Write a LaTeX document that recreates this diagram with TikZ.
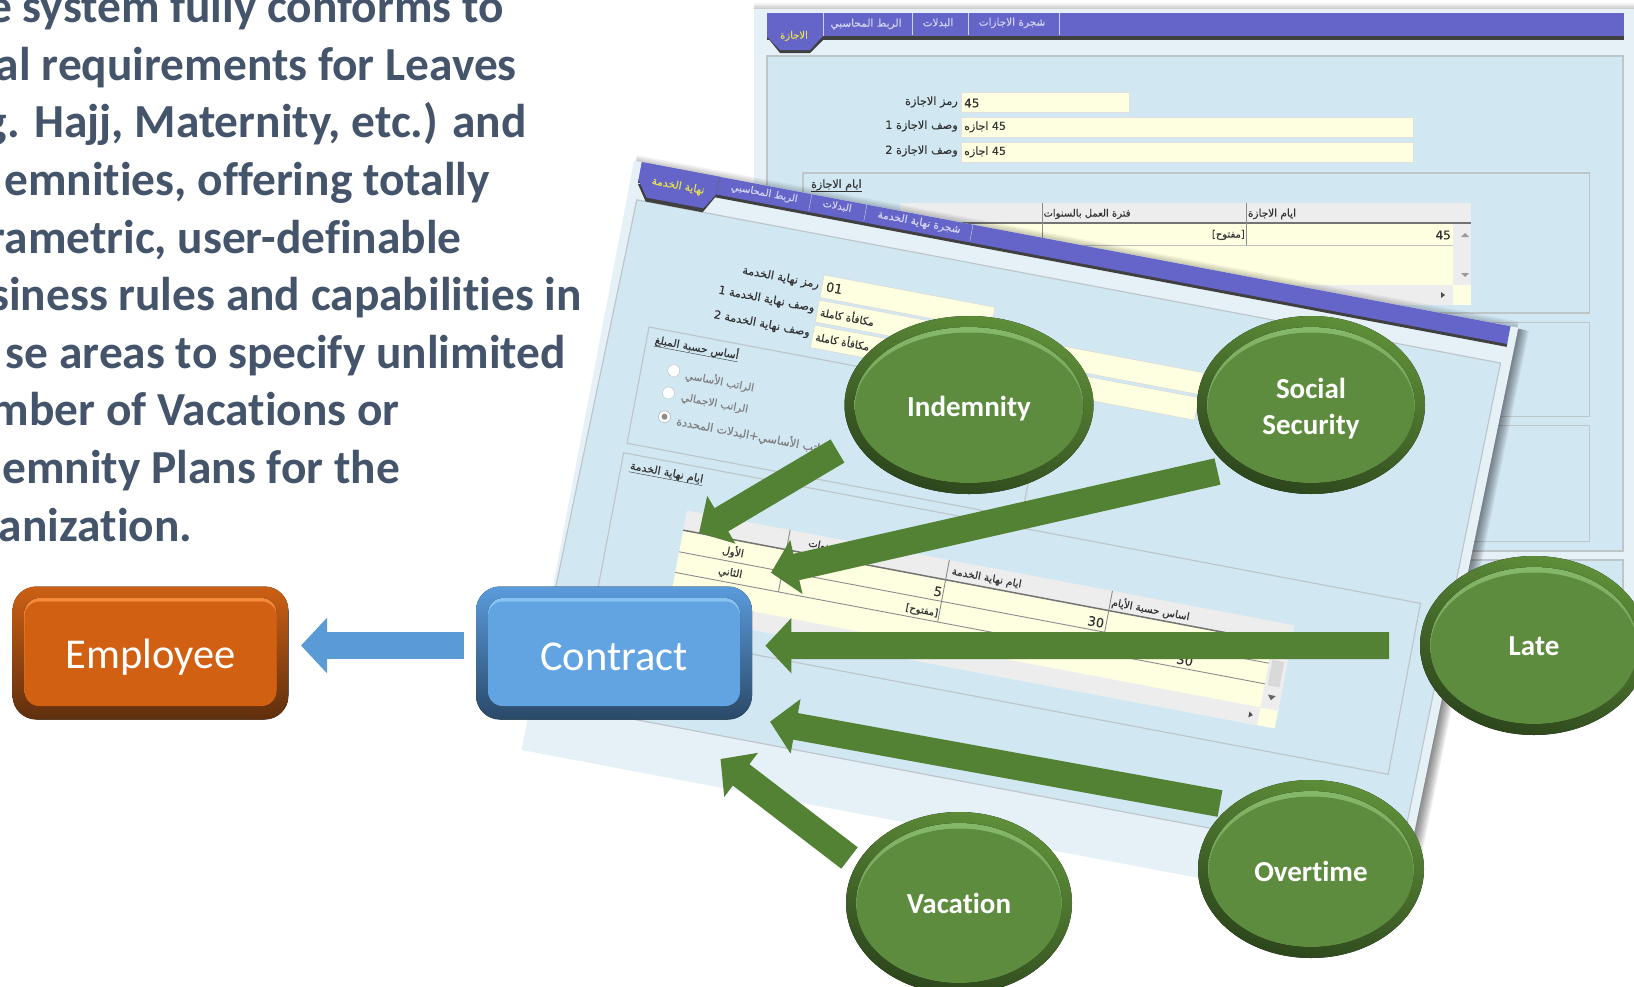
\documentclass[tikz,border=0pt]{standalone}
\usepackage{fontspec}
\setmainfont[Ligatures=NoCommon]{Carlito}
\newfontfamily\arabicfont[Script=Arabic,FakeBold=0.35]{DejaVu Sans}
\TeXXeTstate=1
\usetikzlibrary{arrows.meta,calc,shapes.geometric}
\definecolor{panelbg}{HTML}{D1E8F3}
\definecolor{panelband}{HTML}{E6F1F7}
\definecolor{frameline}{HTML}{BFC6CA}
\definecolor{barpurple}{HTML}{6464C9}
\definecolor{fieldyellow}{HTML}{FEFEE0}
\definecolor{headgrey}{HTML}{EDEDED}
\definecolor{tabyellow}{HTML}{E6E050}
\definecolor{tabpale}{HTML}{D4D4F2}
\definecolor{bodyblue}{HTML}{44546A}
\definecolor{arrowgreen}{HTML}{548235}
\definecolor{arrowblue}{HTML}{5B9BD5}
\definecolor{bevelmain}{HTML}{5E8C3E}
\definecolor{labelink}{HTML}{333333}
\definecolor{bevelrimtop}{HTML}{5F9039}
\definecolor{bevelrimmid}{HTML}{4C7832}
\definecolor{bevelrimbot}{HTML}{2C451C}
\definecolor{bevelhigh}{HTML}{86B86A}
\definecolor{emprimtop}{HTML}{CC6014}
\definecolor{emprimmid}{HTML}{B35510}
\definecolor{emprimbot}{HTML}{5F2F0E}
\definecolor{emphigh}{HTML}{F58A3A}
\definecolor{empmain}{HTML}{D26013}
\definecolor{conrimtop}{HTML}{5A9BDC}
\definecolor{conrimmid}{HTML}{4A84BC}
\definecolor{conrimbot}{HTML}{2A4968}
\definecolor{conhigh}{HTML}{88C2F2}
\definecolor{conmain}{HTML}{62A3E2}
\newcommand{\arb}[2][11.3]{{\arabicfont\fontsize{#1}{#1}\selectfont\beginR #2\endR}}
\newcommand{\bevelellipse}[7]{% name, x, y, rx, ry, label, text offset
  \fill[top color=bevelrimtop,middle color=bevelrimmid,bottom color=bevelrimbot,shading angle=-18] (#2,#3) ellipse [x radius=#4,y radius=#5];
  \fill[top color=bevelhigh,bottom color=bevelmain] (#2,#3) ellipse [x radius=#4-10,y radius=#5-11];
  \fill[bevelmain] (#2,#3+2.5) ellipse [x radius=#4-10.5,y radius=#5-14];
  \node[ellipse,inner sep=0pt,minimum width=2*#4*1pt,minimum height=2*#5*1pt,text=white,align=center,font=\bfseries\fontsize{29}{36}\selectfont] (#1) at (#2,#3+#7) {#6};
}
\newcommand{\bevelbox}[9]{% name, cx, cy, label, rimtop, rimmid, rimbot, high, main
  \fill[rounded corners=24pt,top color=#5,middle color=#6,bottom color=#7] (#2-138,#3-66.5) rectangle (#2+138,#3+66.5);
  \fill[rounded corners=15pt,top color=#8,bottom color=#9] (#2-126,#3-55) rectangle (#2+126,#3+53);
  \fill[rounded corners=15pt,#9] (#2-126,#3-51.5) rectangle (#2+126,#3+53);
  \node[rectangle,inner sep=0pt,minimum width=276pt,minimum height=133pt,text=white,font=\fontsize{42.5}{42.5}\selectfont] (#1) at (#2,#3+4) {#4};
}
\tikzset{
  bodyline/.style={anchor=base east,inner sep=0pt,text=bodyblue,font=\bfseries\fontsize{47.4}{47.4}\selectfont},
  lab/.style={inner sep=0pt,text=labelink},
  rlab/.style={lab,anchor=east},
  llab/.style={lab,anchor=west},
  gridline/.style={draw=black!45,line width=0.9pt},
  frameedge/.style={draw=frameline,line width=1.2pt},
  field/.style={fill=fieldyellow,draw=black!15,line width=0.6pt},
  greenarrow/.style={draw=arrowgreen,line width=27pt,-{Triangle[length=26pt,width=54pt,fill=arrowgreen]}},
  bluearrow/.style={draw=arrowblue,line width=27pt,-{Triangle[length=26pt,width=54pt,fill=arrowblue]}},
  rotlab/.style={lab,transform shape},
  rotrlab/.style={lab,transform shape,anchor=east},
  rotllab/.style={lab,transform shape,anchor=west},
}
\begin{document}
\begin{tikzpicture}[x=1pt,y=-1pt]
\useasboundingbox (0,0) rectangle (1634,986);
\clip (0,0) rectangle (1634,986);
\fill[white] (0,0) rectangle (1634,986);

% text block
\node[bodyline] (t1) at (504,22.7) {e system fully conforms to};
\node[bodyline] (t2) at (517,80.2) {al requirements for Leaves};
\node[bodyline] (t3) at (527,137.7) {g. Hajj, Maternity, etc.) and};
\node[bodyline] (t4) at (490,195.2) {emnities, offering totally};
\node[bodyline] (t5) at (462,253.2) {rametric, user-definable};
\node[bodyline] (t6) at (582,310.7) {siness rules and capabilities in};
\node[bodyline] (t7) at (566,368.2) {se areas to specify unlimited};
\node[bodyline] (t8) at (400,425.7) {mber of Vacations or};
\node[bodyline] (t9) at (400,483.2) {emnity Plans for the};
\node[bodyline] (t10) at (192.5,541.2) {anization.};

% ---------- back screen
\foreach \w/\o in {12/0.05,9/0.05,6/0.05,3/0.05}{\draw[black,opacity=\o,line width=\w pt] (754,9) -- (1634,9);}
\fill[panelband] (754,9) rectangle (1634,640);
\fill[panelbg] (767,56) rectangle (1623,551);
\draw[frameedge] (767,56) rectangle (1623,551);
\fill[panelbg] (767,560) rectangle (1623,640);
\draw[frameedge] (767,640) -- (767,560) -- (1623,560) -- (1623,640);
\draw[frameedge] (803,173) rectangle (1589.5,313);
\draw[frameedge] (803,322.7) rectangle (1589.5,416.7);
\draw[frameedge] (803,425.7) rectangle (1589.5,541.7);
\fill[fieldyellow,draw=black!12] (961,92) rectangle (1129,112);
\fill[fieldyellow,draw=black!12] (961,117) rectangle (1413,137);
\fill[fieldyellow,draw=black!12] (961,142) rectangle (1413,162);
\fill[fieldyellow] (900,223) rectangle (1471,305);
\fill[headgrey] (900,203) rectangle (1471,223);
\fill[headgrey] (1453,223) rectangle (1471,285);
\fill[headgrey] (900,285) rectangle (1453,305);
\draw[black!55,line width=1.5pt] (900,223) -- (1471,223);
\draw[black!25] (900,245) -- (1453,245);
\draw[black!45] (1042,203) -- (1042,245);
\draw[black!45] (1246,203) -- (1246,245);
\fill[black!40] (1465,233) -- (1461,237) -- (1469,237) -- cycle;
\fill[black!40] (1461,273) -- (1469,273) -- (1465,277) -- cycle;
\fill[black!70] (1441,292) -- (1441,298) -- (1445,295) -- cycle;
% bar
\fill[black!75] (767,35) rectangle (1624,40);
\fill[black!75] (767,37) -- (780,53) -- (810,53) -- (823,40) -- cycle;
\fill[barpurple] (767,13) rectangle (1624,36);
\fill[barpurple] (767,13) -- (823,13) -- (823,36) -- (810,50) -- (780,50) -- (767,37) -- cycle;
\draw[white!70!barpurple] (823,13) -- (823,36);
\draw[white!70!barpurple] (912,13) -- (912,35);
\draw[white!70!barpurple] (968,13) -- (968,35);
\draw[white!70!barpurple] (1059,13) -- (1059,35);
\node[lab,text=tabyellow] (bt1) at (794,36) {\arb[10]{الاجازة}};
\node[lab,text=tabpale] (bt2) at (866,24) {\arb[10.5]{الربط المحاسبي}};
\node[lab,text=tabpale] (bt3) at (938,23) {\arb[10.5]{البدلات}};
\node[lab,text=tabpale] (bt4) at (1012,23) {\arb[10.5]{شجرة الاجازات}};
\node[rlab] (bl1) at (958,102) {\arb{رمز الاجازة}};
\node[rlab] (bl2) at (958,126) {\arb{وصف الاجازة 1}};
\node[rlab] (bl3) at (958,151) {\arb{وصف الاجازة 2}};
\node[llab] (bv1) at (964,103) {\arabicfont\fontsize{12}{12}\selectfont 45};
\node[llab] (bv2) at (964,127) {\arb[11]{\beginL 45\endL{} اجازه}};
\node[llab] (bv3) at (964,152) {\arb[11]{\beginL 45\endL{} اجازه}};
\node[llab] (bg1) at (811,185) {\arb[11]{ايام الاجازة}};
\draw[black!80] (bg1.south west) -- (bg1.south east);
\node[lab] (bh1) at (1087,214) {\arb[10]{فترة العمل بالسنوات}};
\node[lab] (bh2) at (1272,214) {\arb[10.5]{ايام الاجازة}};
\node[rlab] (bc1) at (1245,235) {\arb[10]{[مفتوح]}};
\node[rlab] (bc2) at (1451,235) {\arabicfont\fontsize{12}{12}\selectfont 45};

% ---------- front screen
\begin{scope}[shift={(636,161)},rotate=-10.7]
  \foreach \w in {24,21,18,15,12,9,6,3}{\draw[black,opacity=0.07,line width=\w pt] (897,1) -- (888,600);}
  \foreach \w in {12,9,6,3}{\draw[black,opacity=0.05,line width=\w pt] (0,0) -- (897,0);}
  \fill[panelband] (-2,0) -- (898,0) -- (888,600) -- (-3,600) -- cycle;
  \fill[panelbg,frameedge] (8,38) -- (887,38) -- (880,549) -- (-2,549) -- cycle;
  \draw[frameedge] (43.6,160.7) rectangle (445,279);
  \draw[frameedge] (42,289) rectangle (853,463);
  % fields
  \fill[field] (206,77) rectangle (380,100);
  \fill[field] (206,102.6) rectangle (597,125);
  \fill[field] (206,128) rectangle (597,151);
  % table
  \fill[fieldyellow] (115,354) rectangle (733,439);
  \fill[headgrey] (115,334) rectangle (733,354);
  \fill[headgrey] (715,354) rectangle (733,421);
  \fill[headgrey] (115,421) rectangle (715,439);
  \draw[black!55,line width=1.5pt] (115,354) -- (733,354);
  \draw[gridline] (115,376) -- (715,376);
  \draw[gridline] (115,397) -- (715,397);
  \draw[gridline] (220,334) -- (220,397);
  \draw[gridline] (382,334) -- (382,397);
  \draw[gridline] (548,334) -- (548,397);
  \fill[black!15] (718,372) rectangle (730,398);
  \fill[black!60] (720,407) -- (728,407) -- (724,412) -- cycle;
  \fill[black!70] (705,427) -- (705,433) -- (709,430) -- cycle;
  % bar
  \fill[black!75] (6,17) rectangle (890,21);
  \fill[black!75] (6,22) -- (17,38) -- (75,38) -- (85,20) -- cycle;
  \fill[barpurple] (6,0) rectangle (890,18);
  \fill[barpurple] (6,0) -- (85,0) -- (85,18) -- (75,34) -- (17,34) -- (6,18) -- cycle;
  \draw[white!70!barpurple] (179,0) -- (179,17);
  \draw[white!70!barpurple] (235,0) -- (235,17);
  \draw[white!70!barpurple] (343,0) -- (343,17);
  \draw[black!60] (85,0) -- (85,18);
  \node[rotlab,text=tabyellow] (ft1) at (46,17) {\arb[10.7]{نهاية الخدمة}};
  \node[rotlab,text=tabpale] (ft2) at (132,8) {\arb[10]{الربط المحاسبي}};
  \node[rotlab,text=tabpale] (ft3) at (206,7) {\arb[10]{البدلات}};
  \node[rotlab,text=tabpale] (ft4) at (289.6,8) {\arb[10.7]{شجرة نهاية الخدمة}};
  \node[rotrlab] (fl1) at (203,88) {\arb{رمز نهاية الخدمة}};
  \node[rotrlab] (fl2) at (203,112) {\arb{وصف نهاية الخدمة 1}};
  \node[rotrlab] (fl3) at (203,137) {\arb{وصف نهاية الخدمة 2}};
  \node[rotllab] (fv1) at (210,88) {\arabicfont\fontsize{13}{13}\selectfont 01};
  \node[rotllab] (fv2) at (209,113) {\arb[10.5]{مكافأة كاملة}};
  \node[rotllab] (fv3) at (209,138) {\arb[10.5]{مكافأة كاملة}};
  \node[rotlab] (fg1) at (94.5,171.7) {\arb[10.7]{أساس حسبة المبلغ}};
  \draw[black!80] (fg1.south west) -- (fg1.south east);
  \fill[white,draw=black!25] (76,199) circle [radius=6];
  \fill[white,draw=black!25] (75,222) circle [radius=6];
  \fill[white,draw=black!35] (75.5,246) circle [radius=6];
  \fill[black!45] (75.5,246) circle [radius=3];
  \node[rotllab,text=black!50] (fr1) at (88,201) {\arb[10.5]{الراتب الأساسي}};
  \node[rotllab,text=black!50] (fr2) at (88,224) {\arb[10.5]{الراتب الاجمالي}};
  \node[rotllab,text=black!50] (fr3) at (88,248) {\arb[11.3]{الراتب الأساسي+البدلات المحددة}};
  \node[rotlab] (fg2) at (88,301) {\arb[10.9]{ايام نهاية الخدمة}};
  \draw[black!80] (fg2.south west) -- (fg2.south east);
  \node[rotlab] (fh1) at (258,344) {\arb[10]{السنوات}};
  \node[rotlab] (fh2) at (422,345) {\arb[10.4]{ايام نهاية الخدمة}};
  \node[rotlab] (fh3) at (589,345) {\arb[10.3]{اساس حسبة الأيام}};
  \node[rotlab] (fc1) at (168,366) {\arb[10.5]{الأول}};
  \node[rotlab] (fc2) at (169,387.5) {\arb[10.5]{الثاني}};
  \node[rotrlab] (fc3) at (381,367) {\arabicfont\fontsize{13}{13}\selectfont 5};
  \node[rotrlab] (fc4) at (381,389) {\arb[10]{[مفتوح]}};
  \node[rotrlab] (fc5) at (546,367.5) {\arabicfont\fontsize{13}{13}\selectfont 30};
  \node[rotlab] (fc6) at (632,388.6) {\arabicfont\fontsize{13}{13}\selectfont 30};
\end{scope}

% ---------- boxes
\bevelbox{Employee}{150.5}{653}{Employee}{emprimtop}{emprimmid}{emprimbot}{emphigh}{empmain}
\bevelbox{Contract}{614}{653}{Contract}{conrimtop}{conrimmid}{conrimbot}{conhigh}{conmain}

% ---------- ellipses
\bevelellipse{Indemnity}{969}{405}{124.5}{89}{Indemnity}{3.5}
\bevelellipse{Social}{1311}{405}{114}{89}{Social\\Security}{4}
\bevelellipse{Late}{1534}{645.5}{114}{89.5}{Late}{1}
\bevelellipse{Overtime}{1311}{869}{113}{89}{Overtime}{2}
\bevelellipse{Vacation}{959}{903}{113}{91}{Vacation}{0}

% ---------- arrows
\coordinate (ind-tail) at ($(Indemnity)+(-131.5,42.5)$);
\coordinate (ind-tip) at ($(Contract)+(85,-124)$);
\coordinate (soc-tail) at ($(Social)+(-93.5,62.5)$);
\coordinate (soc-tip) at ($(Contract)+(157,-84.3)$);
\coordinate (late-tail) at ($(Late)+(-145,-1)$);
\coordinate (late-tip) at ($(Contract)+(151.4,-11.3)$);
\coordinate (over-tail) at ($(Overtime)+(-91,-67.5)$);
\coordinate (over-tip) at ($(Contract)+(156,64.7)$);
\coordinate (vac-tail) at ($(Vacation)+(-109.5,-45)$);
\coordinate (vac-tip) at ($(Contract)+(106.5,102)$);
\coordinate (con-tail) at ($(Contract)+(-150,-11.5)$);
\coordinate (emp-tip) at ($(Employee)+(150.5,-11.5)$);
\draw[greenarrow] (ind-tail) -- (ind-tip);
\draw[greenarrow] (soc-tail) -- (soc-tip);
\draw[greenarrow] (late-tail) -- (late-tip);
\draw[greenarrow] (over-tail) -- (over-tip);
\draw[greenarrow] (vac-tail) -- (vac-tip);
\draw[bluearrow] (con-tail) -- (emp-tip);
\end{tikzpicture}
\end{document}
